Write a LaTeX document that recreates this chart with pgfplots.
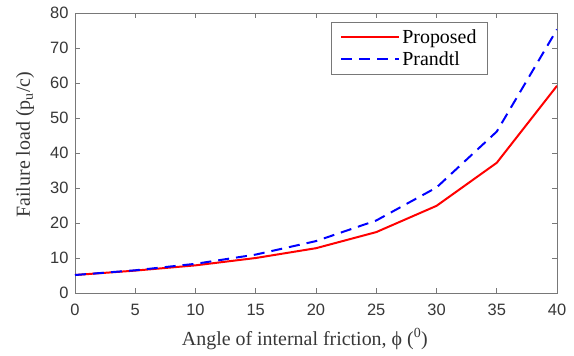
\documentclass[border=0pt]{standalone}
\usepackage{pgfplots}
\pgfplotsset{compat=1.18}
\usepackage{fontspec}
\setmainfont{Liberation Serif}
\newfontfamily\arialf{Liberation Sans}
\definecolor{axgray}{RGB}{120,120,120}
\definecolor{txtgray}{RGB}{55,55,55}
\begin{document}
\begin{tikzpicture}
\useasboundingbox (-75bp,-63bp) rectangle (499bp,293bp);
\begin{axis}[
  at={(0,0)}, anchor=south west,
  scale only axis,
  width=482bp, height=280bp,
  xmin=0, xmax=40, ymin=0, ymax=80,
  xtick={0,5,...,40}, ytick={0,10,...,80},
  tick align=inside,
  major tick length=5bp,
  axis line style={axgray, line width=0.9pt},
  every tick/.style={axgray, line width=0.9pt},
  tick label style={font=\arialf\fontsize{16.5}{17}\selectfont, text=txtgray},
  xticklabel style={yshift=-8bp},
  yticklabel style={xshift=-3bp},
  /pgf/number format/assume math mode=true,
  xlabel={Angle of internal friction, ϕ (\textsuperscript{0})},
  ylabel={Failure load (p\textsubscript{u}/c)},
  label style={font=\fontsize{20}{22}\selectfont, text=txtgray},
  xlabel style={at={(axis description cs:0.477,-0.164)}, anchor=center},
  ylabel style={at={(axis description cs:-0.1037,0.53)}, anchor=center},
  legend style={at={(0.531,0.968)}, anchor=north west, draw=axgray, line width=0.9pt,
    font=\fontsize{20}{22}\selectfont, text=black, inner xsep=9pt, inner ysep=5pt,
    row sep=3pt, cells={anchor=west}},
  legend image code/.code={\draw[#1] (0bp,0bp) -- (58bp,0bp);},
]
\addplot[red, line width=2pt] coordinates {
(0,5.14) (5,6.4) (10,7.9) (15,10.0) (20,12.8) (25,17.4) (30,24.9) (35,37.2) (40,59.2)};
\addlegendentry{Proposed}
\addplot[blue, line width=2pt, dash pattern=on 11bp off 7bp] coordinates {
(0,5.14) (5,6.49) (10,8.34) (15,10.98) (20,14.83) (25,20.72) (30,30.14) (35,46.12) (40,75.31)};
\addlegendentry{Prandtl}
\end{axis}
\end{tikzpicture}
\end{document}
